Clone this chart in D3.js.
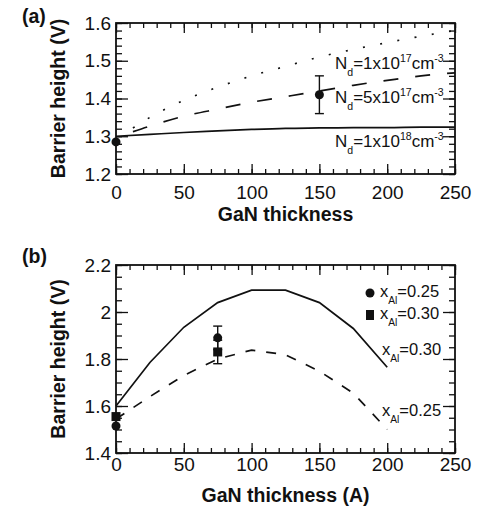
<!DOCTYPE html>
<html lang="en">
<head>
    <meta charset="UTF-8"/>
    <title>Barrier height vs GaN thickness</title>
    <script src="https://cdnjs.cloudflare.com/ajax/libs/d3/7.8.5/d3.min.js"></script>
    <style>
        body { margin: 0; background: #fff; }
        svg { font-family: "Liberation Sans", Arial, Helvetica, sans-serif; }
        .tick text { font-size: 19px; fill: #111; }
        .tick line { stroke: #111; stroke-width: 1.3; }
        .domain { display: none; }
        .frame { fill: none; stroke: #111; stroke-width: 1.8; }
        .title { font-size: 19.5px; font-weight: bold; fill: #111; }
        .curve { fill: none; stroke: #111; stroke-width: 1.7; }
    </style>
</head>
<body>
<div id="chart"></div>
<script>
    // panel (a): barrier height vs GaN thickness for three doping levels
    const xA = [0, 25, 50, 75, 100, 125, 150, 175, 200, 225, 250];
    const xAStart = [12.5, 25, 50, 75, 100, 125, 150, 175, 200, 225, 250];
    const nd1e17 = [1.322, 1.35, 1.395, 1.43, 1.46, 1.485, 1.51, 1.53, 1.548, 1.565, 1.58];
    const nd5e17 = [1.312, 1.327, 1.353, 1.372, 1.39, 1.405, 1.42, 1.435, 1.448, 1.46, 1.468];
    const nd1e18 = [1.30, 1.305, 1.31, 1.314, 1.318, 1.321, 1.322, 1.323, 1.323, 1.324, 1.324];
    const measAX = [0, 150];
    const measAY = [1.285, 1.41];
    const measAErr = [0, 0.05];

    // panel (b): barrier height for two Al fractions
    const xB = [0, 25, 50, 75, 100, 125, 150, 175, 200];
    const al30 = [1.60, 1.785, 1.935, 2.04, 2.093, 2.093, 2.04, 1.93, 1.765];
    const al25 = [1.545, 1.64, 1.73, 1.80, 1.838, 1.818, 1.748, 1.655, 1.50];
    const measBX = [0, 75];
    const meas25 = [1.515, 1.89];
    const meas30 = [1.555, 1.83];
    const measBErr = [0, 0.05];

    // ticks
    const xMajor = [0, 50, 100, 150, 200, 250];
    const xMinor = d3.range(0, 251, 10);
    const yMajorA = [1.2, 1.3, 1.4, 1.5, 1.6];
    const yMinorA = d3.range(0, 21).map(i => 1.2 + i * 0.02);
    const yMajorB = [1.4, 1.6, 1.8, 2.0, 2.2];
    const yMinorB = d3.range(0, 17).map(i => 1.4 + i * 0.05);

    const width = 482;
    const height = 510;
    const left = 116, right = 455;

    const svg = d3.select("#chart")
        .append("svg")
        .attr("width", width)
        .attr("height", height);

    const fmt = d3.format("~g");

    function drawAxes(x, y, yMajor, yMinor, xPad, top, bottom) {
        const g = svg.append("g");
        g.append("g").attr("transform", `translate(0,${bottom})`)
            .call(d3.axisBottom(x).tickValues(xMinor).tickSize(-5).tickFormat(""));
        g.append("g").attr("transform", `translate(0,${bottom})`)
            .call(d3.axisBottom(x).tickValues(xMajor).tickSize(-10).tickPadding(xPad).tickFormat(d3.format("d")));
        g.append("g").attr("transform", `translate(0,${top})`)
            .call(d3.axisTop(x).tickValues(xMinor).tickSize(-5).tickFormat(""));
        g.append("g").attr("transform", `translate(0,${top})`)
            .call(d3.axisTop(x).tickValues(xMajor).tickSize(-10).tickFormat(""));
        g.append("g").attr("transform", `translate(${left},0)`)
            .call(d3.axisLeft(y).tickValues(yMinor).tickSize(-6).tickFormat(""));
        g.append("g").attr("transform", `translate(${left},0)`)
            .call(d3.axisLeft(y).tickValues(yMajor).tickSize(-12).tickPadding(5).tickFormat(fmt));
        g.append("g").attr("transform", `translate(${right},0)`)
            .call(d3.axisRight(y).tickValues(yMinor).tickSize(-6).tickFormat(""));
        g.append("g").attr("transform", `translate(${right},0)`)
            .call(d3.axisRight(y).tickValues(yMajor).tickSize(-12).tickFormat(""));
        g.append("rect").attr("class", "frame")
            .attr("x", left).attr("y", top)
            .attr("width", right - left).attr("height", bottom - top);
    }

    // text with sub/superscripts: parts = [[text, "n"|"sub"|"sup"], ...]
    function richText(x, y, parts, size) {
        const t = svg.append("text").attr("x", x).attr("y", y)
            .attr("fill", "#111").attr("font-size", size);
        let level = 0;
        parts.forEach(([s, kind]) => {
            const target = kind === "sub" ? size * 0.42 : kind === "sup" ? -size * 0.4 : 0;
            t.append("tspan")
                .attr("dy", target - level)
                .attr("font-size", kind === "n" ? size : size * 0.62)
                .text(s);
            level = target;
        });
    }

    function errorBars(x, y, xs, ys, errs) {
        xs.forEach((xv, i) => {
            if (!errs[i]) return;
            const cx = x(xv);
            svg.append("line").attr("x1", cx).attr("x2", cx)
                .attr("y1", y(ys[i] - errs[i])).attr("y2", y(ys[i] + errs[i]))
                .attr("stroke", "#111").attr("stroke-width", 1.4);
            [ys[i] - errs[i], ys[i] + errs[i]].forEach(v => {
                svg.append("line").attr("x1", cx - 4.5).attr("x2", cx + 4.5)
                    .attr("y1", y(v)).attr("y2", y(v))
                    .attr("stroke", "#111").attr("stroke-width", 1.4);
            });
        });
    }

    // ---------- panel (a) ----------
    const topA = 23, bottomA = 174;
    const xScaleA = d3.scaleLinear().domain([0, 250]).range([left, right]);
    const yScaleA = d3.scaleLinear().domain([1.2, 1.6]).range([bottomA, topA]);

    drawAxes(xScaleA, yScaleA, yMajorA, yMinorA, 12, topA, bottomA);

    const lineA = d3.line().x(d => xScaleA(d[0])).y(d => yScaleA(d[1])).curve(d3.curveMonotoneX);

    svg.append("path").attr("class", "curve")
        .attr("d", lineA(d3.zip(xAStart, nd1e17)))
        .attr("stroke-width", 2.2)
        .attr("stroke-dasharray", "2,15.5");
    svg.append("path").attr("class", "curve")
        .attr("d", lineA(d3.zip(xAStart, nd5e17)))
        .attr("stroke-dasharray", "15,17");
    svg.append("path").attr("class", "curve")
        .attr("d", lineA(d3.zip(xA, nd1e18)));

    errorBars(xScaleA, yScaleA, measAX, measAY, measAErr);
    svg.selectAll(".ptA").data(d3.zip(measAX, measAY)).enter()
        .append("circle").attr("class", "ptA")
        .attr("cx", d => xScaleA(d[0])).attr("cy", d => yScaleA(d[1]))
        .attr("r", 4.5).attr("fill", "#111");

    richText(335, 69, [["N", "n"], ["d", "sub"], ["=1x10", "n"], ["17", "sup"], ["cm", "n"], ["-3", "sup"]], 17);
    richText(335, 103, [["N", "n"], ["d", "sub"], ["=5x10", "n"], ["17", "sup"], ["cm", "n"], ["-3", "sup"]], 17);
    richText(335, 147, [["N", "n"], ["d", "sub"], ["=1x10", "n"], ["18", "sup"], ["cm", "n"], ["-3", "sup"]], 17);

    svg.append("text").attr("class", "title")
        .attr("x", 22).attr("y", 23).text("(a)");
    svg.append("text").attr("class", "title")
        .attr("text-anchor", "middle")
        .attr("transform", `translate(65,${(topA + bottomA) / 2}) rotate(-90)`)
        .text("Barrier height (V)");
    svg.append("text").attr("class", "title")
        .attr("text-anchor", "middle")
        .attr("x", (left + right) / 2).attr("y", 221)
        .text("GaN thickness");

    // ---------- panel (b) ----------
    const topB = 265, bottomB = 453;
    const xScaleB = d3.scaleLinear().domain([0, 250]).range([left, right]);
    const yScaleB = d3.scaleLinear().domain([1.4, 2.2]).range([bottomB, topB]);

    drawAxes(xScaleB, yScaleB, yMajorB, yMinorB, 5, topB, bottomB);

    const lineB = d3.line().x(d => xScaleB(d[0])).y(d => yScaleB(d[1]));

    svg.append("path").attr("class", "curve")
        .attr("d", lineB(d3.zip(xB, al30)));
    svg.append("path").attr("class", "curve")
        .attr("d", lineB(d3.zip(xB, al25)))
        .attr("stroke-dasharray", "10,11");

    errorBars(xScaleB, yScaleB, measBX, meas25, measBErr);
    errorBars(xScaleB, yScaleB, measBX, meas30, measBErr);

    svg.selectAll(".sq").data(d3.zip(measBX, meas30)).enter()
        .append("rect").attr("class", "sq")
        .attr("x", d => xScaleB(d[0]) - 4.5).attr("y", d => yScaleB(d[1]) - 4.5)
        .attr("width", 9).attr("height", 9).attr("fill", "#111");
    svg.selectAll(".dot").data(d3.zip(measBX, meas25)).enter()
        .append("circle").attr("class", "dot")
        .attr("cx", d => xScaleB(d[0])).attr("cy", d => yScaleB(d[1]))
        .attr("r", 4.5).attr("fill", "#111");

    // legend
    svg.append("circle").attr("cx", 370).attr("cy", 293).attr("r", 4.5).attr("fill", "#111");
    svg.append("rect").attr("x", 366).attr("y", 310).attr("width", 8).attr("height", 10).attr("fill", "#111");
    richText(380, 297, [["x", "n"], ["Al", "sub"], ["=0.25", "n"]], 16.5);
    richText(380, 319, [["x", "n"], ["Al", "sub"], ["=0.30", "n"]], 16.5);
    richText(382, 355, [["x", "n"], ["Al", "sub"], ["=0.30", "n"]], 16.5);
    richText(382, 416, [["x", "n"], ["Al", "sub"], ["=0.25", "n"]], 16.5);

    svg.append("text").attr("class", "title")
        .attr("x", 22).attr("y", 263).text("(b)");
    svg.append("text").attr("class", "title")
        .attr("text-anchor", "middle")
        .attr("transform", `translate(65,${(topB + bottomB) / 2}) rotate(-90)`)
        .text("Barrier height (V)");
    svg.append("text").attr("class", "title")
        .attr("text-anchor", "middle")
        .attr("x", (left + right) / 2).attr("y", 502)
        .text("GaN thickness (A)");
</script>
</body>
</html>
